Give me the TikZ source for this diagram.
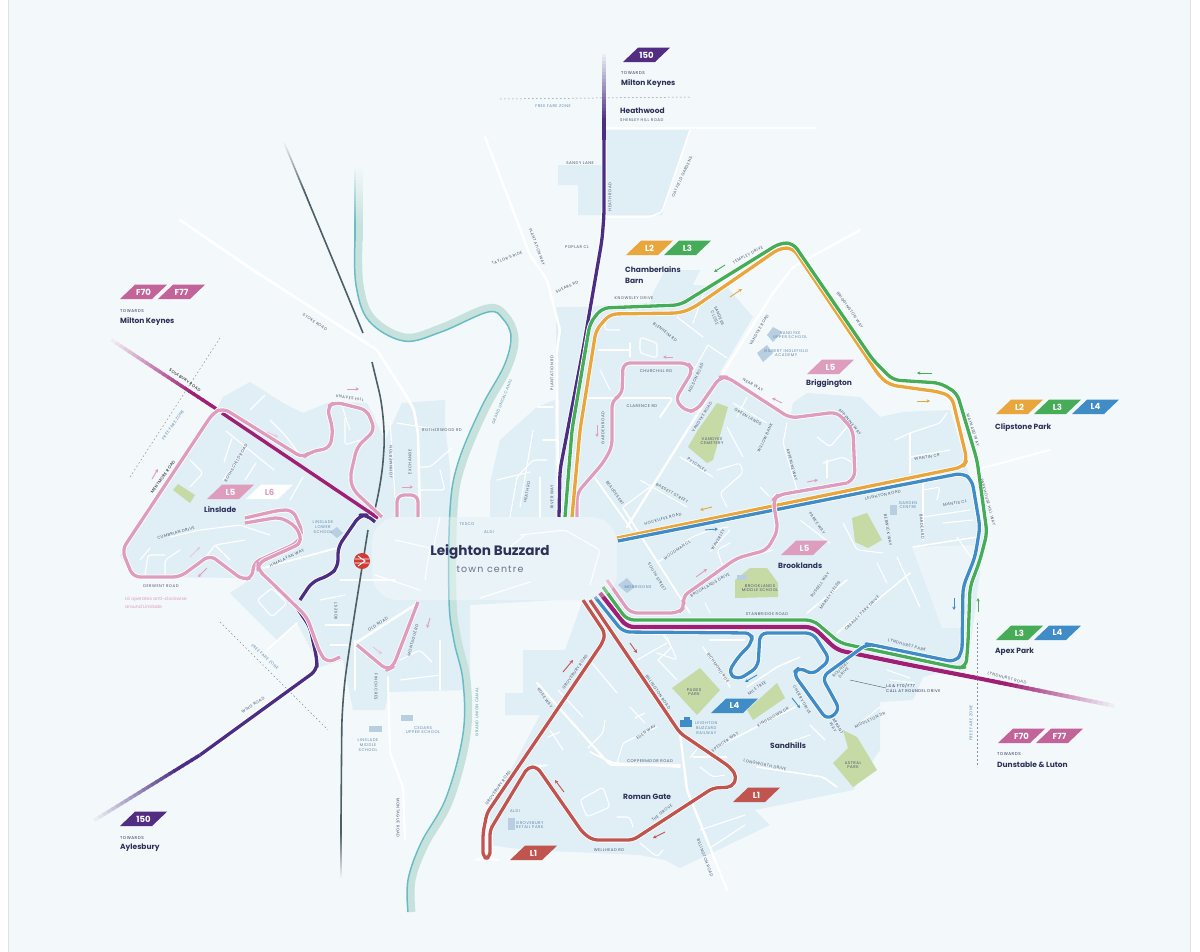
\documentclass[tikz,border=0pt]{standalone}
\usepackage{xcolor}
\usepackage{fontspec}
\usetikzlibrary{calc}
\usetikzlibrary{arrows.meta}
\setmainfont{Poppins}
\newfontfamily\roadfont[LetterSpace=12]{Poppins}
\definecolor{bgblue}{HTML}{F3F8FB}
\definecolor{urban}{HTML}{E0EEF5}
\definecolor{parkgreen}{HTML}{C6DAA6}
\definecolor{schoolblue}{HTML}{B7CFE0}
\definecolor{canalpale}{HTML}{C7E2DC}
\definecolor{canalteal}{HTML}{68BCC6}
\definecolor{railgrey}{HTML}{4C5F66}
\definecolor{lpink}{HTML}{DE9DBD}
\definecolor{lgreen}{HTML}{46AC57}
\definecolor{lorange}{HTML}{E8A63C}
\definecolor{lblue}{HTML}{3F8CC6}
\definecolor{lred}{HTML}{C0544F}
\definecolor{fmagenta}{HTML}{9E1F74}
\definecolor{fbadge}{HTML}{C2649A}
\definecolor{bpurple}{HTML}{4B2E83}
\definecolor{navy}{HTML}{2D3159}
\definecolor{roadtext}{HTML}{4A566E}
\definecolor{poiblue}{HTML}{5F88AE}
\tikzset{
  road/.style={draw=white,line width=#1pt,line join=round,line cap=round,rounded corners=3pt},
  road/.default=1.1,
  route/.style={draw=#1,line width=3.3pt,line join=round,rounded corners=7pt,
    preaction={draw=white,line width=5pt}},
  zone/.style={draw=roadtext!65!white,line width=0.5pt,dash pattern=on 1.6pt off 2.4pt},
  roadlabel/.style={font=\roadfont\fontsize{4}{4.6}\selectfont,text=roadtext,inner sep=0pt,align=center},
  poilabel/.style={roadlabel,text=poiblue},
  placelabel/.style={font=\bfseries\fontsize{7.5}{11.5}\selectfont,text=navy,inner sep=0pt,anchor=west,align=left},
  towards/.style={font=\roadfont\fontsize{4.2}{5}\selectfont,text=navy,inner sep=0pt,anchor=west},
  badgetext/.style={font=\bfseries\fontsize{8.5}{9}\selectfont,inner sep=0pt,text=white},
  busarrow/.style={draw=#1,line width=0.9pt,-{Stealth[length=3.4pt,width=3.4pt]}}
}
\newcommand{\routebadge}[5]{
\fill[#4] (#2,#3) -- ++(15,-14.3) -- ++(32,0) -- ++(-15,14.3) -- cycle;
\node[badgetext] (#1) at (#2+23.5,#3-7.1) {#5};
}
\newcommand{\fadeline}[4]{
\foreach \t in {0,0.04,...,0.96}{
\pgfmathsetmacro\mixval{min(100,130*\t)}
\draw[#1!\mixval!bgblue,line width=#2pt] ($#3!\t!#4$) -- ($#3!\t+0.05!#4$);
}
}
\begin{document}
\begin{tikzpicture}[x=1pt,y=-1pt]
\useasboundingbox (0,0) rectangle (1200,951);
\fill[white] (0,0) rectangle (1200,951);
\fill[bgblue,draw=black!12,line width=0.8pt] (8,-5) rectangle (1190,956);
% built up areas
\fill[urban] (133,577) -- (120,555) -- (215,412) -- (223,397) -- (250,382) -- (283,403) -- (303,413) -- (330,402) -- (367,403) -- (385,440) -- (402,403) -- (445,400) -- (445,423) -- (450,470) -- (450,517) -- (490,517) -- (490,483) -- (500,440) -- (537,407) -- (555,400) -- (556,600) -- (470,605) -- (470,690) -- (388,692) -- (385,710) -- (353,710) -- (343,660) -- (320,667) -- (297,623) -- (277,640) -- (230,593) -- (253,578) -- cycle;
\fill[urban] (556,307) -- (583,307) -- (650,303) -- (653,293) -- (670,277) -- (693,285) -- (727,287) -- (753,317) -- (720,372) -- (790,418) -- (793,403) -- (807,393) -- (860,397) -- (880,417) -- (903,412) -- (950,410) -- (965,460) -- (985,533) -- (968,665) -- (923,677) -- (913,700) -- (880,702) -- (880,750) -- (853,790) -- (755,810) -- (770,825) -- (680,868) -- (665,860) -- (640,855) -- (573,852) -- (525,850) -- (490,845) -- (490,810) -- (540,715) -- (505,715) -- (505,693) -- (523,693) -- (523,650) -- (565,650) -- (583,600) -- (556,600) -- cycle;
\fill[urban] (372,517) rectangle (617,600);
\fill[urban] (605,130) -- (690,130) -- (662,215) -- (578,215) -- (578,185) -- (558,185) -- (558,165) -- (605,165) -- cycle;
\fill[urban] (653,293) -- (665,270) -- (700,270) -- (690,290) -- cycle;
\fill[bgblue!60!urban] (912,547) -- (975,545) -- (962,590) -- (960,628) -- (942,628) -- cycle;
% main roads
\draw[road=2.6] (180,220) -- (253,270) -- (377,350) -- (407,397) -- (414,410) -- (418,433) -- (420,517);
\draw[road=2.4] (485,137) -- (530,255) -- (547,280) -- (560,330) -- (557,350) -- (558,517);
\draw[road=2.6] (606,128) -- (815,128);
\draw[road=1.6] (690,130) -- (662,212) -- (650,217) -- (600,217);
\draw[road=2.4] (860,230) -- (793,267) -- (773,293) -- (627,527);
\draw[road=2] (975,470) -- (1050,450);
\draw[road=2.4] (680,733) -- (687,790) -- (727,890);
\draw[road=2.2] (537,683) -- (610,765) -- (680,765);
\draw[road=2.2] (388,677) -- (390,753) -- (403,787) -- (405,840);
\draw[road=2.4] (357,642) -- (418,603);
\draw[road=1.8] (267,650) -- (297,623);
\draw[road=1.8] (263,568) -- (337,548);
\draw[road=1.8] (587,398) -- (673,398) -- (660,417);
\draw[road=1.8] (595,478) -- (632,530);
\draw[road=1.8] (623,508) -- (690,613);
\draw[road=1.5] (913,547) -- (977,537);
\draw[road=1.5] (837,633) -- (910,573);
\draw[road=1.5] (807,613) -- (847,580);
\draw[road=1.8] (590,752) -- (613,763) -- (680,767);
\draw[road=1.6] (757,767) -- (777,770) -- (823,777) -- (837,787);
\draw[road=1.5] (750,730) -- (803,703);
\draw[road=1.5] (717,747) -- (757,727);
\draw[road=1.5] (703,647) -- (730,687);
\draw[road=1.5] (747,687) -- (777,667) -- (800,657);
% side roads
\draw[road] (226,431) -- (274,470);
\draw[road] (232,438) -- (224,462);
\draw[road] (247,447) -- (223,480);
\draw[road] (256,463) -- (245,480);
\draw[road] (303,477) -- (290,500);
\draw[road] (190,460) -- (203,473) -- (190,487);
\draw[road] (170,537) -- (200,530) -- (240,525) -- (270,535);
\draw[road] (140,560) -- (150,548);
\draw[road] (145,575) -- (148,555) -- (165,555);
\draw[road] (165,577) -- (165,560) -- (180,550);
\draw[road] (200,565) -- (215,545) -- (245,540);
\draw[road] (215,545) -- (230,560);
\draw[road] (250,410) -- (265,395);
\draw[road] (270,420) -- (285,435) -- (300,455);
\draw[road] (345,418) -- (345,445) -- (360,440);
\draw[road] (340,400) -- (350,430);
\draw[road] (257,600) -- (272,588) -- (287,603) -- (272,617) -- cycle;
\draw[road] (340,580) -- (395,580);
\draw[road] (355,640) -- (355,690);
\draw[road] (320,600) -- (345,595);
\draw[road] (325,625) -- (350,625);
\draw[road] (330,645) -- (348,645);
\draw[road] (397,423) -- (440,430);
\draw[road] (390,420) -- (395,497);
\draw[road] (418,467) -- (430,467) -- (452,448);
\draw[road] (420,490) -- (445,490) -- (440,470);
\draw[road] (400,680) -- (440,675);
\draw[road] (400,660) -- (420,650) -- (432,662);
\draw[road] (440,640) -- (440,690);
\draw[road] (547,460) -- (533,460) -- (517,477) -- (510,517);
\draw[road] (520,507) -- (533,430);
\draw[road] (537,407) -- (553,407);
\draw[road] (543,440) -- (557,440);
\draw[road] (540,477) -- (540,517);
\draw[road] (497,480) -- (530,472);
\draw[road] (605,323) -- (605,330) -- (620,330);
\draw[road] (598,350) -- (630,350);
\draw[road] (630,343) -- (630,357);
\draw[road] (600,370) -- (610,390);
\draw[road] (640,337) -- (640,353) -- (657,358) -- (657,343) -- cycle;
\draw[road] (677,317) -- (703,337);
\draw[road] (703,295) -- (693,323);
\draw[road] (708,345) -- (727,358);
\draw[road] (708,345) -- (680,395);
\draw[road] (640,480) -- (687,507);
\draw[road] (680,457) -- (713,477);
\draw[road] (623,507) -- (650,487);
\draw[road] (717,470) -- (740,463) -- (743,473) -- (720,493) -- (727,507);
\draw[road] (733,403) -- (767,423);
\draw[road] (747,397) -- (737,417);
\draw[road] (727,427) -- (743,457);
\draw[road] (787,423) -- (783,443) -- (797,490);
\draw[road] (817,437) -- (830,447) -- (847,427);
\draw[road] (823,463) -- (843,457) -- (853,463);
\draw[road] (827,460) -- (827,478);
\draw[road] (760,487) -- (770,497);
\draw[road] (895,440) -- (910,433) -- (940,423) -- (947,413);
\draw[road] (910,433) -- (910,473);
\draw[road] (950,450) -- (910,457);
\draw[road] (923,483) -- (923,540);
\draw[road] (923,490) -- (940,487) -- (937,500);
\draw[road] (923,517) -- (970,510);
\draw[road] (943,523) -- (973,520);
\draw[road] (957,537) -- (973,560);
\draw[road] (897,557) -- (920,607);
\draw[road] (877,563) -- (887,583);
\draw[road] (657,563) -- (692,537) -- (710,530) -- (728,527);
\draw[road] (710,552) -- (730,530);
\draw[road] (723,567) -- (717,550) -- (730,543);
\draw[road] (737,560) -- (773,550);
\draw[road] (800,520) -- (830,543);
\draw[road] (843,523) -- (857,550) -- (883,553);
\draw[road] (705,603) -- (710,613);
\draw[road] (662,633) -- (672,647) -- (658,660);
\draw[road] (658,660) -- (677,680);
\draw[road] (710,640) -- (745,640);
\draw[road] (667,637) -- (677,660) -- (657,653);
\draw[road] (637,660) -- (667,643);
\draw[road] (592,663) -- (617,693);
\draw[road] (558,690) -- (583,717);
\draw[road] (630,707) -- (645,723);
\draw[road] (645,713) -- (635,718);
\draw[road] (617,763) -- (623,743) -- (657,727);
\draw[road] (605,720) -- (603,733) -- (588,748);
\draw[road] (550,730) -- (563,750);
\draw[road] (548,737) -- (560,732);
\draw[road] (580,800) -- (603,787) -- (610,807) -- (587,817) -- cycle;
\draw[road] (617,817) -- (630,817) -- (633,827);
\draw[road] (640,843) -- (657,857) -- (663,850);
\draw[road] (693,757) -- (727,757);
\draw[road] (700,767) -- (713,777) -- (725,775);
\draw[road] (700,745) -- (690,758);
\draw[road] (700,830) -- (745,815);
\draw[road] (710,848) -- (745,825);
\draw[road] (860,723) -- (880,707);
\draw[road] (887,670) -- (910,678);
\draw[road] (890,680) -- (915,683);
\draw[road] (810,725) -- (825,740);
\draw[road] (780,745) -- (810,735);
% town centre roads
\draw[road] (375,575) -- (420,590);
\draw[road] (395,540) -- (430,548) -- (425,580);
\draw[road] (440,517) -- (432,555);
\draw[road] (520,535) -- (565,530) -- (600,550) -- (590,585);
\draw[road] (500,555) -- (525,535);
\draw[road] (480,598) -- (530,582);
% canal
\draw[canalpale,line width=7pt,line join=round] plot[smooth,tension=0.6] coordinates {(359,240) (360,285) (372,318) (405,337) (440,328) (487,308) (505,315) (515,338) (508,368) (485,410) (462,465) (454,510) (453,600) (458,640) (467,680) (467,735) (450,800) (425,845) (412,880) (412,912)};
\draw[canalteal,line width=1.5pt,line join=round] plot[smooth,tension=0.6] coordinates {(355,240) (356,285) (369,321) (404,341) (441,332) (488,312) (503,319) (511,337) (504,366) (481,408) (458,463) (450,510) (449,600) (454,641) (463,681) (463,734) (446,798) (421,843) (408,880) (408,912)};
\fadeline{canalpale}{7}{(359,165)}{(359,240)}
\fadeline{canalteal}{1.5}{(355,165)}{(355,240)}
% railway
\fadeline{railgrey}{1.6}{(283,140)}{(310,205)}
\draw[railgrey,line width=1.6pt] (310,205) -- (337,270) -- (363,333);
\draw[railgrey,line width=1.6pt,rounded corners=30pt] (372,362) -- (386,420) -- (381,490) -- (375,510);
\draw[railgrey,line width=1.6pt,rounded corners=30pt] (368,530) -- (352,630) -- (342,700) -- (341,820);
\fadeline{railgrey}{1.6}{(341,880)}{(341,820)}
% parks and schools
\fill[parkgreen] (173,490) -- (178,484) -- (195,495) -- (190,503) -- cycle;
\fill[parkgreen] (717,403) -- (728,407) -- (713,460) -- (707,463) -- (688,447) -- (698,430) -- cycle;
\fill[parkgreen] (852,518) -- (867,513) -- (882,540) -- (868,548) -- (855,542) -- cycle;
\fill[parkgreen] (750,568) -- (767,568) -- (778,583) -- (778,597) -- (735,598) -- (735,580) -- cycle;
\fill[parkgreen] (672,688) -- (700,668) -- (720,690) -- (697,715) -- cycle;
\fill[parkgreen] (747,710) -- (777,683) -- (785,698) -- (753,720) -- cycle;
\fill[parkgreen] (843,730) -- (857,737) -- (877,770) -- (853,787) -- (833,763) -- (848,748) -- cycle;
\fill[schoolblue] (767,335) -- (773,327) -- (782,332) -- (773,342) -- cycle;
\fill[schoolblue] (757,353) -- (767,345) -- (773,353) -- (763,362) -- cycle;
\fill[schoolblue] (890,505) rectangle (897,515);
\fill[schoolblue] (618,585) -- (627,578) -- (635,587) -- (627,593) -- cycle;
\fill[schoolblue] (737,575) rectangle (747,580);
\fill[schoolblue] (330,532) -- (337,527) -- (343,533) -- (337,538) -- cycle;
\fill[schoolblue] (369,726) rectangle (382,732);
\fill[schoolblue] (401,715) rectangle (413,721);
\fill[schoolblue] (508,818) rectangle (515,830);
% free fare zone
\draw[zone] (500,99) -- (690,97);
\draw[zone] (130,477) -- (220,338);
\draw[zone] (220,622) -- (328,730);
\draw[zone] (977,623) -- (977,767);
% F70 F77
\fadeline{fmagenta}{3.4}{(107,337)}{(215,408)}
\draw[fmagenta,line width=3.4pt] (222,413) -- (378,518);
\fadeline{fmagenta}{4}{(1120,707)}{(977,678)}
\draw[route=fmagenta,line width=4.2pt] (600,593) -- (627,627) -- (813,627) -- (837,650) -- (910,665) -- (977,678);
% 150
\fadeline{bpurple}{3.4}{(604,50)}{(604,140)}
\draw[route=bpurple] (604,140) -- (604,215) -- (602,240) -- (583,350) -- (560,470) -- (559,517);
\fadeline{bpurple}{3.4}{(90,823)}{(200,755)}
\draw[route=bpurple] (200,755) -- (317,670) -- (317,660) -- (310,627) -- (297,608);
\draw[route=bpurple] (300,600) -- (312,582) -- (330,575) -- (338,567) -- (338,547) -- (360,515) -- (367,515) -- (375,522);
% L5 L6
\draw[route=lpink] (382,517) -- (353,490) -- (350,477) -- (357,447) -- (375,430) -- (367,410) -- (335,402) -- (327,407) -- (333,430) -- (330,448) -- (310,452) -- (303,458) -- (223,408) -- (213,413) -- (122,550) -- (133,577) -- (180,577) -- (210,555) -- (243,580) -- (253,577) -- (253,563) -- (297,543) -- (303,533) -- (293,510) -- (280,510) -- (245,518);
\draw[route=lpink] (245,523) -- (280,517) -- (297,527) -- (302,543) -- (258,563) -- (258,570) -- (267,578) -- (307,617) -- (320,653) -- (327,663) -- (340,657);
\draw[route=lpink] (357,645) -- (387,670) -- (393,667) -- (418,602);
\draw[route=lpink] (397,517) -- (397,495) -- (418,495) -- (418,517);
\draw[route=lpink] (577,517) -- (577,493) -- (603,463) -- (612,447) -- (612,400) -- (622,395) -- (623,363) -- (688,363) -- (693,370) -- (675,400) -- (687,412) -- (697,410) -- (720,377) -- (727,377) -- (790,418) -- (837,412) -- (853,430) -- (855,478) -- (847,483);
% L2 L3 L4 and L1
\draw[route=lorange] (572,517) -- (580,430) -- (596,330) -- (610,314) -- (680,313) -- (693,308) -- (780,248) -- (793,248) -- (880,377) -- (890,385) -- (940,392) -- (952,397) -- (967,460) -- (963,467) -- (617,538);
\draw[route=lgreen] (565,517) -- (572,430) -- (590,323) -- (602,308) -- (680,305) -- (780,243) -- (793,243) -- (873,360) -- (893,380) -- (940,383) -- (957,393) -- (977,460) -- (987,533) -- (980,560) -- (970,587) -- (968,643) -- (966,667) -- (958,668) -- (873,650) -- (840,643) -- (813,620) -- (627,620) -- (603,587);
\draw[route=lblue] (618,541) -- (860,493) -- (963,473) -- (972,480) -- (980,527) -- (975,557) -- (963,587) -- (962,653) -- (955,662) -- (873,645) -- (867,644) -- (822,677) -- (840,710) -- (827,720) -- (793,673) -- (800,667) -- (812,675) -- (830,660) -- (813,633) -- (760,633) -- (758,667) -- (738,680) -- (728,673) -- (738,657) -- (752,643) -- (752,633) -- (623,632) -- (595,597);
\draw[route=lpink] (847,483) -- (778,495) -- (773,500) -- (778,530) -- (767,550) -- (737,558) -- (682,597) -- (685,607) -- (678,613) -- (630,613) -- (607,580);
\draw[route=lred,rounded corners=5pt] (583,600) -- (605,633) -- (603,642) -- (487,813) -- (483,833) -- (483,858) -- (490,858) -- (490,830) -- (528,767) -- (537,767) -- (583,833) -- (593,840) -- (633,840) -- (713,788) -- (732,787) -- (737,777) -- (730,767) -- (680,733) -- (590,600);
% bus direction arrows
\draw[busarrow=lpink] (347,389) -- (359,389);
\draw[busarrow=lpink] (152,479) -- (158,469);
\draw[busarrow=lpink!60!white] (267,432) -- (278,437);
\draw[busarrow=lpink] (207,568) -- (198,577);
\draw[busarrow=lpink!60!white] (190,557) -- (200,547);
\draw[busarrow=lpink] (402,487) -- (413,487);
\draw[busarrow=lpink] (673,357) -- (663,357);
\draw[busarrow=lpink] (597,425) -- (597,437);
\draw[busarrow=lpink] (782,403) -- (772,398);
\draw[busarrow=lpink] (807,482) -- (818,480);
\draw[busarrow=lpink] (696,577) -- (707,569);
\draw[busarrow=lpink] (430,618) -- (427,628);
\draw[busarrow=lpink!60!white] (373,647) -- (382,654);
\draw[busarrow=lgreen] (725,265) -- (714,272);
\draw[busarrow=lgreen] (932,373) -- (917,373);
\draw[busarrow=lgreen] (978,612) -- (978,598);
\draw[busarrow=lorange] (730,297) -- (742,289);
\draw[busarrow=lorange] (917,401) -- (930,401);
\draw[busarrow=lorange] (712,507) -- (700,510);
\draw[busarrow=lblue] (705,530) -- (718,529);
\draw[busarrow=lblue] (954,598) -- (954,610);
\draw[busarrow=lblue] (757,675) -- (745,682);
\draw[busarrow=lblue] (792,698) -- (800,708);
\draw[busarrow=lred] (563,672) -- (573,660);
\draw[busarrow=lred] (630,643) -- (637,653);
\draw[busarrow=lred] (564,792) -- (555,780);
\draw[busarrow=lred] (665,832) -- (653,838);
% town centre
\fill[white,opacity=0.32,rounded corners=26pt] (372,517) rectangle (617,600);
\node[font=\bfseries\fontsize{13.6}{15}\selectfont,text=navy,inner sep=0pt] (townname) at (490,552) {Leighton Buzzard};
\node[font=\roadfont\fontsize{9.5}{11}\selectfont,text=navy!70!white,inner sep=0pt] (towncentre) at (490,569) {town centre};
% station roundel
\node[circle,fill=lred!70!red,minimum size=16pt,inner sep=0pt] (station) at (362,561) {};
\draw[white,line width=0.9pt] (355,559) -- (369,559) (355,563) -- (369,563) (358,556) -- (365,561) -- (358,566);
% railway symbol
\fill[lblue] (680,720) rectangle (692,727);
\fill[lblue] (684,717) rectangle (690,721);
% route badges
\routebadge{onefiftyn}{623}{62}{bpurple!90!fmagenta}{150}
\routebadge{onefiftys}{120}{826}{bpurple!90!fmagenta}{150}
\routebadge{fseventyw}{120}{299}{fbadge}{F70}
\routebadge{fsevensw}{158}{299}{fbadge}{F77}
\routebadge{fseventye}{998}{743}{fbadge}{F70}
\routebadge{fsevense}{1036}{743}{fbadge}{F77}
\routebadge{ltwob}{626}{255}{lorange}{L2}
\routebadge{lthreeb}{664}{255}{lgreen}{L3}
\routebadge{ltwoc}{996}{414}{lorange}{L2}
\routebadge{lthreec}{1034}{414}{lgreen}{L3}
\routebadge{lfourc}{1072}{414}{lblue}{L4}
\routebadge{lthreea}{996}{640}{lgreen}{L3}
\routebadge{lfoura}{1034}{640}{lblue}{L4}
\routebadge{lfives}{711}{713}{lblue}{L4}
\routebadge{lfivel}{207}{499}{lpink}{L5}
\fill[white] (246,499) -- ++(15,-14.3) -- ++(32,0) -- ++(-15,14.3) -- cycle;
\node[badgetext,text=lpink] (lsix) at (269.5,491.9) {L6};
\routebadge{lfivebg}{807}{374}{lpink}{L5}
\routebadge{lfivebk}{781}{555}{lpink}{L5}
\routebadge{lonee}{733}{802}{lred}{L1}
\routebadge{lonew}{510}{860}{lred}{L1}
% places
\node[towards] (towardsmkn) at (621,73) {TOWARDS};
\node[placelabel] (mkn) at (621,83) {Milton Keynes};
\node[placelabel] (heathwood) at (620,111) {Heathwood};
\node[roadlabel,anchor=west] (shenley) at (620,120) {SHENLEY HILL ROAD};
\node[placelabel] (chamberlains) at (625,275) {Chamberlains\\Barn};
\node[towards] (towardsmkw) at (120,311) {TOWARDS};
\node[placelabel] (mkw) at (120,321) {Milton Keynes};
\node[placelabel] (linslade) at (204,510) {Linslade};
\node[placelabel] (briggington) at (806,384) {Briggington};
\node[placelabel] (clipstone) at (995,427) {Clipstone Park};
\node[placelabel] (brooklands) at (778,566) {Brooklands};
\node[placelabel] (apex) at (995,652) {Apex Park};
\node[towards] (towardsdl) at (997,754) {TOWARDS};
\node[placelabel] (dunstable) at (997,765) {Dunstable \& Luton};
\node[placelabel] (sandhills) at (770,746) {Sandhills};
\node[placelabel] (romangate) at (623,797) {Roman Gate};
\node[towards] (towardsay) at (120,838) {TOWARDS};
\node[placelabel] (aylesbury) at (120,848) {Aylesbury};
\node[font=\fontsize{4.6}{8}\selectfont,text=lpink,inner sep=0pt,anchor=west,align=left] (lsixnote) at (125,603) {L6 operates anti-clockwise\\around Linslade};
\node[roadlabel,anchor=west,align=left,text=navy] (roundelnote) at (886,688) {L4 \& F70/F77\\CALL AT ROUNDEL DRIVE};
\coordinate (roundelend) at (850,680);
\draw[railgrey,line width=0.4pt] (roundelend) -- (roundelnote.west);
% free fare zone labels
\node[poilabel] (zonen) at (553,106) {FREE FARE ZONE};
\node[poilabel,rotate=55] (zonew) at (173,425) {FREE FARE ZONE};
\node[poilabel,rotate=-42] (zonesw) at (265,657) {FREE FARE ZONE};
\node[poilabel,rotate=90] (zonee) at (971,723) {FREE FARE ZONE};
\node[roadlabel,text=canalteal!80!black,rotate=68] (canaln) at (502,402) {GRAND UNION CANAL};
\node[roadlabel,text=canalteal!80!black,rotate=90] (canals) at (477,712) {GRAND UNION CANAL};
% schools and parks
\node[poilabel] (lowerschool) at (323,527) {LINSLADE\\LOWER\\SCHOOL};
\node[poilabel] (middleschool) at (368,745) {LINSLADE\\MIDDLE\\SCHOOL};
\node[poilabel] (cedars) at (423,730) {CEDARS\\UPPER SCHOOL};
\node[poilabel,anchor=west] (vandykeschool) at (773,335) {VANDYKE\\UPPER SCHOOL};
\node[poilabel,anchor=west] (gilbert) at (764,353) {GILBERT INGLEFIELD\\ACADEMY};
\node[roadlabel] (cemetery) at (712,441) {VANDYKE\\CEMETERY};
\node[poilabel] (gardencentre) at (908,505) {GARDEN\\CENTRE};
\node[poilabel] (morrisons) at (638,587) {MORRISONS};
\node[roadlabel] (bmschool) at (760,588) {BROOKLANDS\\MIDDLE SCHOOL};
\node[roadlabel] (pagespark) at (694,692) {PAGES\\PARK};
\node[poilabel,anchor=west] (lbrailway) at (695,728) {LEIGHTON\\BUZZARD\\RAILWAY};
\node[roadlabel] (astralpark) at (853,765) {ASTRAL\\PARK};
\node[poilabel] (tesco) at (467,524) {TESCO};
\node[poilabel] (aldi) at (489,532) {ALDI};
\node[poilabel] (aldis) at (515,811) {ALDI};
\node[poilabel,anchor=west] (retailpark) at (516,825) {GROVEBURY\\RETAIL PARK};
% road names
\node[roadlabel,rotate=-33] (stokerd) at (315,322) {STOKE ROAD};
\node[roadlabel,rotate=-35,text=black] (soulbury) at (185,380) {SOULBURY ROAD};
\node[roadlabel,rotate=55,text=black] (mentmore) at (163,477) {MENTMORE ROAD};
\node[roadlabel,rotate=-8] (knaves) at (350,398) {KNAVES HILL};
\node[roadlabel,rotate=60] (rothschild) at (236,463) {ROTHSCHILD ROAD};
\node[roadlabel,rotate=15] (cumbrian) at (176,533) {CUMBRIAN DRIVE};
\node[roadlabel,rotate=25] (himalayan) at (287,558) {HIMALAYAN WAY};
\node[roadlabel] (derwent) at (161,586) {DERWENT ROAD};
\node[roadlabel,rotate=90] (edenw) at (391,462) {JOHN MERTON};
\node[roadlabel,rotate=90] (exchange) at (410,462) {EXCHANGE};
\node[roadlabel] (rotherwood) at (442,430) {ROTHERWOOD RD};
\node[roadlabel,rotate=32] (wingrd) at (253,705) {WING ROAD};
\node[roadlabel,rotate=32] (oldrd) at (378,624) {OLD ROAD};
\node[roadlabel,rotate=90] (rosest) at (336,611) {ROSE ST};
\node[roadlabel,rotate=-90] (finch) at (376,687) {FINCH CRES};
\node[roadlabel,rotate=75] (montague) at (413,640) {MONTAGUE RD};
\node[roadlabel,rotate=-90] (montagues) at (398,818) {MONTAGUE ROAD};
\node[roadlabel,rotate=80] (heathrdc) at (527,492) {HEATH RD};
\node[roadlabel,rotate=90] (riverway) at (552,497) {RIVER WAY};
\node[roadlabel,rotate=90] (plantc) at (552,373) {PLANTATION RD};
\node[roadlabel,rotate=-70] (plantn) at (537,247) {PLANTATION WAY};
\node[roadlabel,rotate=20] (taylors) at (507,258) {TAYLOR'S RIDE};
\node[roadlabel] (sandy) at (580,163) {SANDY LANE};
\node[roadlabel] (poplar) at (577,247) {POPLAR CL};
\node[roadlabel,rotate=25] (shears) at (567,287) {SHEARS RD};
\node[roadlabel,rotate=90] (heathrd) at (610,197) {HEATH ROAD};
\node[roadlabel,rotate=65] (chiltern) at (682,177) {OATFIELD GARDENS};
\node[roadlabel] (knowley) at (634,298) {KNOWSLEY DRIVE};
\node[roadlabel,rotate=28] (temple) at (748,255) {TEMPLEY DRIVE};
\node[roadlabel,rotate=-55] (brigway) at (850,310) {BRIGGINGTON WAY};
\node[roadlabel,rotate=-68] (sanders) at (717,317) {SANDERS\\CLOSE};
\node[roadlabel,rotate=-38] (blenheim) at (665,332) {BLENHEIM RD};
\node[roadlabel] (churchill) at (656,371) {CHURCHILL RD};
\node[roadlabel,rotate=65] (nelson) at (696,378) {NELSON ROAD};
\node[roadlabel] (clarence) at (642,406) {CLARENCE RD};
\node[roadlabel,rotate=90] (carter) at (603,428) {GARDEN ROAD};
\node[roadlabel,rotate=60] (vandykea) at (759,330) {VANDYKE ROAD};
\node[roadlabel,rotate=58] (vandykeb) at (702,417) {VANDYKE ROAD};
\node[roadlabel,rotate=-30] (nearway) at (753,385) {NEAR WAY};
\node[roadlabel,rotate=-30] (greenl) at (748,417) {GREEN LANDS};
\node[roadlabel,rotate=65] (willow) at (765,438) {WILLOW BANK};
\node[roadlabel,rotate=-50] (appeninea) at (850,422) {APPENINE WAY};
\node[roadlabel,rotate=-35] (pytchley) at (697,465) {PYTCHLEY};
\node[roadlabel,rotate=-55] (beaudesert) at (615,493) {BEAUDESERT};
\node[roadlabel,rotate=-30] (bassett) at (672,493) {BASSETT STREET};
\node[roadlabel,rotate=15] (hockliffe) at (663,519) {HOCKLIFFE ROAD};
\node[roadlabel,rotate=-75] (appenineb) at (792,465) {APPENINE WAY};
\node[roadlabel,rotate=-72] (maynard) at (973,430) {MAYNARD WAY};
\node[roadlabel,rotate=-75] (parkhouse) at (988,502) {PARKHOUSE HILL WAY};
\node[roadlabel,rotate=8] (wantin) at (927,457) {WANTIN CR};
\node[roadlabel,rotate=8] (mantis) at (955,503) {MANTIS CL};
\node[roadlabel,rotate=12] (lipscombe) at (883,495) {LEIGHTON ROAD};
\node[roadlabel,rotate=-80] (berwick) at (888,530) {BERWICK WAY};
\node[roadlabel,rotate=-85] (basset) at (922,527) {BARDEN RD};
\node[roadlabel,rotate=-15] (lyndpark) at (907,645) {LYNDHURST PARK};
\node[roadlabel,rotate=-15] (lyndrd) at (1007,678) {LYNDHURST ROAD};
\node[roadlabel,rotate=-55] (parke) at (817,523) {PARKE WAY};
\node[roadlabel,rotate=35] (woodman) at (677,550) {WOODMAN CL};
\node[roadlabel,rotate=60] (waverley) at (718,540) {WAVERLEY};
\node[roadlabel,rotate=-60] (southst) at (657,577) {SOUTH STREET};
\node[roadlabel,rotate=30] (brookdr) at (710,585) {BROOKLANDS DRIVE};
\node[roadlabel,rotate=55] (russell) at (820,585) {RUSSELL WAY};
\node[roadlabel,rotate=55] (marley) at (830,595) {MARLEY FIELDS};
\node[roadlabel] (stanbridge) at (767,614) {STANBRIDGE ROAD};
\node[roadlabel,rotate=45] (creasey) at (862,613) {CREASEY PARK DRIVE};
\node[roadlabel,rotate=45] (roundel) at (842,671) {ROUNDEL\\DRIVE};
\node[roadlabel,rotate=-60] (tarrant) at (835,726) {TARRANT\\WAY};
\node[roadlabel,rotate=25] (middleton) at (870,720) {MIDDLETON DR};
\node[roadlabel,rotate=-55] (richmond) at (718,668) {RICHMOND RD E};
\node[roadlabel,rotate=35] (miletree) at (757,688) {MILE TREE};
\node[roadlabel,rotate=30] (kingsdown) at (773,717) {KINGSDOWN DR};
\node[roadlabel,rotate=-60] (cherry) at (802,700) {CHERRY DRIVE};
\node[roadlabel,rotate=35] (spencer) at (725,742) {SPENCER WAY};
\node[roadlabel,rotate=-12] (longworth) at (765,765) {LONGWORTH DRIVE};
\node[roadlabel] (coppermoor) at (650,761) {COPPERMOOR ROAD};
\node[roadlabel,rotate=35] (edenway) at (646,732) {EDEN WAY};
\node[roadlabel,rotate=-55] (billingtonn) at (658,692) {BILLINGTON ROAD};
\node[roadlabel,rotate=55] (groveburyn) at (575,672) {GROVEBURY ROAD};
\node[roadlabel,rotate=55] (groveburys) at (498,788) {GROVEBURY ROAD};
\node[roadlabel,rotate=-55] (roseway) at (545,698) {ROSE WAY};
\node[roadlabel,rotate=38] (thegrove) at (662,813) {THE GROVE};
\node[roadlabel,rotate=-70] (billingtons) at (705,858) {BILLINGTON ROAD};
\node[roadlabel] (wellhead) at (609,850) {WELLHEAD RD};
\end{tikzpicture}
\end{document}
